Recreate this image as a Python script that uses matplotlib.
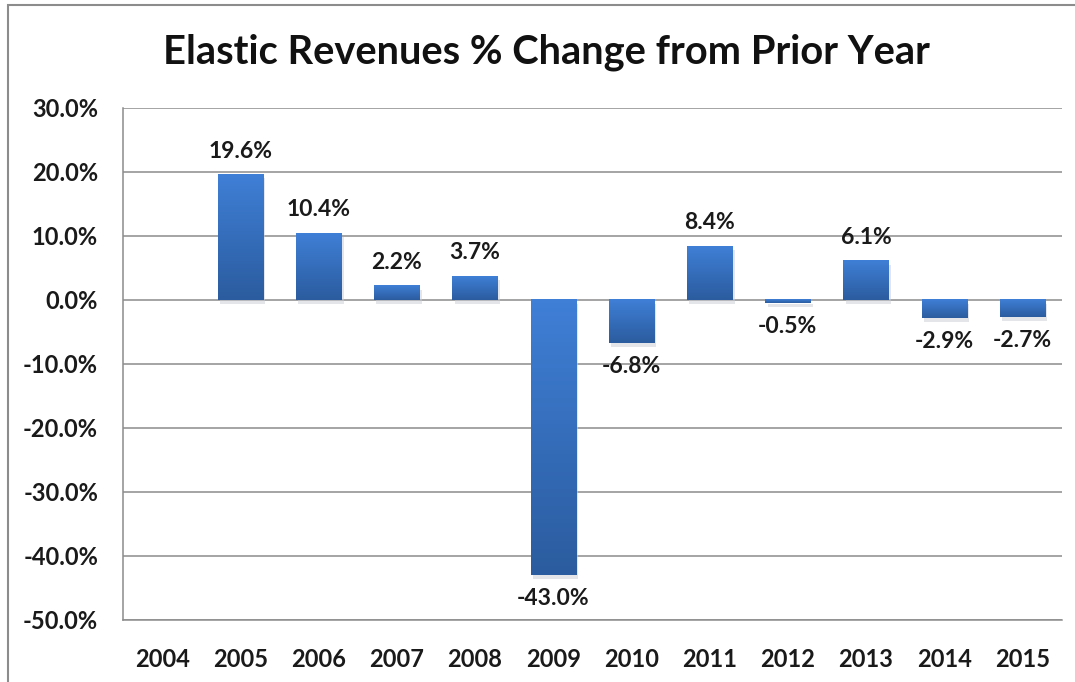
import numpy as np
import matplotlib.pyplot as plt
from matplotlib.colors import LinearSegmentedColormap
from matplotlib.patches import Rectangle

# Year-over-year change in elastic revenues (%)
years = ['2004', '2005', '2006', '2007', '2008', '2009',
         '2010', '2011', '2012', '2013', '2014', '2015']
pct_change = [np.nan, 19.6, 10.4, 2.2, 3.7, -43.0,
              -6.8, 8.4, -0.5, 6.1, -2.9, -2.7]
yticks = [30, 20, 10, 0, -10, -20, -30, -40, -50]

plt.rcParams['font.family'] = ['Lato', 'DejaVu Sans']

fig = plt.figure(figsize=(10.75, 6.82), dpi=100)
ax = fig.add_axes([0.1145, 0.091, 0.873, 0.751])

# light-to-dark blue fill like an office chart
grad = LinearSegmentedColormap.from_list('bar', ['#2b5c9f', '#3f7fd6'])
width = 0.58
x = np.arange(len(years))
for xi, v in zip(x, pct_change):
    if np.isnan(v):
        continue
    lo, hi = min(0, v), max(0, v)
    # soft drop shadow
    ax.add_patch(Rectangle((xi - width / 2 + 0.03, lo - 0.6), width, hi - lo,
                           color='#c9ccd2', alpha=0.5, lw=0, zorder=2))
    g = np.linspace(0, 1, 64).reshape(-1, 1)
    ax.imshow(g, cmap=grad, aspect='auto', origin='lower',
              extent=(xi - width / 2, xi + width / 2, lo, hi), zorder=3)
    if v >= 0:
        ax.text(xi, v + 2.0, f'{v:.1f}%', ha='center', va='bottom',
                fontsize=16.5, fontweight='bold', color='#1a1a1a', zorder=4)
    else:
        ax.text(xi, v - 2.0, f'{v:.1f}%', ha='center', va='top',
                fontsize=16.5, fontweight='bold', color='#1a1a1a', zorder=4)

ax.set_xlim(-0.5, len(years) - 0.5)
ax.set_ylim(-50, 30)
ax.set_xticks(x)
ax.set_xticklabels(years)
ax.set_yticks(yticks)
ax.set_yticklabels([f'{t:.1f}%' for t in yticks])
ax.tick_params(axis='both', length=0, labelsize=17, colors='#1a1a1a')
ax.tick_params(axis='x', pad=20)
ax.tick_params(axis='y', pad=18)
for lab in ax.get_xticklabels() + ax.get_yticklabels():
    lab.set_fontweight('bold')

ax.grid(axis='y', color='#8c8c8c', lw=1.1, zorder=1)
ax.set_axisbelow(True)
for s in ['top', 'right']:
    ax.spines[s].set_visible(False)
for s in ['left', 'bottom']:
    ax.spines[s].set_color('#8c8c8c')
    ax.spines[s].set_linewidth(1.1)

fig.text(0.508, 0.924, 'Elastic Revenues % Change from Prior Year',
         ha='center', va='center', fontsize=28.7, fontweight='bold',
         color='#111111')

# outer chart frame
fig.add_artist(Rectangle((0.0075, -0.01), 1.0, 1.0025, transform=fig.transFigure,
                         fill=False, edgecolor='#8c8c8c', lw=1.5))

fig.savefig('out.png', dpi=100, facecolor='white')
